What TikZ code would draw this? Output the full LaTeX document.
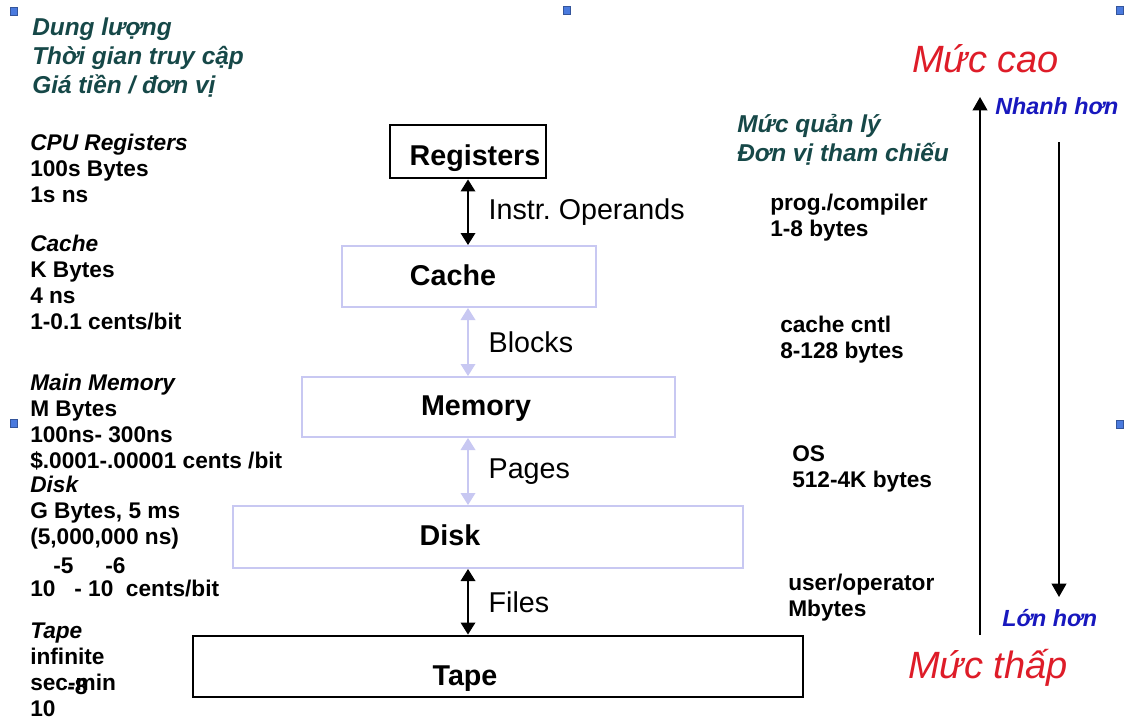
\documentclass[tikz,border=0pt]{standalone}
\usepackage{fontspec}
\setmainfont{Liberation Sans}
\usetikzlibrary{arrows.meta,positioning}
\definecolor{headteal}{RGB}{22,72,72}
\definecolor{levelred}{RGB}{222,28,40}
\definecolor{speedblue}{RGB}{24,24,190}
\definecolor{boxlav}{RGB}{200,200,242}
\definecolor{handleblue}{RGB}{74,122,222}
\tikzset{
  hardbox/.style={draw=black,line width=2.2pt,inner sep=0},
  softbox/.style={draw=boxlav,line width=1.5pt,inner sep=0},
  boxtext/.style={anchor=base,inner sep=0,font=\fontsize{21.5}{24}\selectfont\bfseries},
  info/.style={anchor=base west,inner sep=0,align=left,font=\fontsize{17}{19.5}\selectfont\bfseries},
  vnhead/.style={anchor=base west,inner sep=0,align=left,text=headteal,
    font=\fontsize{18.3}{21.4}\selectfont\bfseries\itshape},
  levellbl/.style={anchor=base west,inner sep=0,text=levelred,font=\fontsize{28.5}{32}\selectfont\itshape},
  speedlbl/.style={anchor=base west,inner sep=0,text=speedblue,font=\fontsize{17.5}{20}\selectfont\bfseries\itshape},
  linklbl/.style={right=15pt,inner sep=0,font=\fontsize{21.5}{24}\selectfont},
  hardlink/.style={{Triangle[length=9pt,width=11pt]}-{Triangle[length=9pt,width=11pt]},line width=1pt},
  softlink/.style={hardlink,draw=boxlav,fill=boxlav},
  sidearrow/.style={-{Triangle[length=10pt,width=11pt]},line width=1.3pt},
  handle/.style={fill=handleblue,draw=handleblue!70!black,line width=0.3pt}
}
\begin{document}
\begin{tikzpicture}[x=0.75pt,y=-0.75pt]
  \useasboundingbox (0,0) rectangle (1124,721);
  \fill[white] (0,0) rectangle (1124,721);
  \draw
    (468,151.5) node[hardbox,minimum width=117pt,minimum height=39.75pt] (reg){}
    (469,276.5) node[softbox,minimum width=190.5pt,minimum height=45.75pt] (cache){}
    (488.5,407) node[softbox,minimum width=279.75pt,minimum height=45pt] (mem){}
    (488,537) node[softbox,minimum width=382.5pt,minimum height=46.5pt] (disk){}
    (498,666.5) node[hardbox,minimum width=457.5pt,minimum height=45.75pt] (tape){}
    (475,165) node[boxtext] (regtxt){Registers}
    (453,285) node[boxtext] (cachetxt){Cache}
    (476,415) node[boxtext] (memtxt){Memory}
    (450,545) node[boxtext] (disktxt){Disk}
    (465,685) node[boxtext] (tapetxt){Tape};
  \begin{scope}
    \draw[hardlink] (reg.south) -- node[linklbl]{Instr.\ Operands} (reg.south |- cache.north);
    \draw[softlink] (reg.south |- cache.south) -- node[linklbl]{Blocks} (reg.south |- mem.north);
    \draw[softlink] (reg.south |- mem.south) -- node[linklbl]{Pages} (reg.south |- disk.north);
    \draw[hardlink] (reg.south |- disk.south) -- node[linklbl]{Files} (reg.south |- tape.north);
  \end{scope}
  \draw
    (32,93) node[vnhead] (costhead){Dung lượng\\Thời gian truy cập\\Giá tiền / đơn vị}
    (30,202) node[info] (reginfo){\itshape CPU Registers\\100s Bytes\\1s ns}
    (30,329) node[info] (cacheinfo){\itshape Cache\\K Bytes\\4 ns\\1-0.1 cents/bit}
    (30,468) node[info] (meminfo){\itshape Main Memory\\M Bytes\\100ns- 300ns\\\$.0001-.00001 cents /bit}
    (30,544) node[info] (diskinfo){\itshape Disk\\G Bytes, 5 ms\\(5,000,000 ns)}
    (53,573) node[info] (diskexpa){-5}
    (105,573) node[info] (diskexpb){-6}
    (30,596) node[info] (diskcost){10\ \ \ - 10\ \ cents/bit}
    (30,716) node[info] (tapeinfo){\itshape Tape\\infinite\\sec-min\\10}
    (67,694) node[info] (tapeexp){-8};
  \draw
    (737,161) node[vnhead] (mgmthead){Mức quản lý\\Đơn vị tham chiếu}
    (770,236) node[info] (progmgmt){prog./compiler\\1-8 bytes}
    (780,358) node[info] (cachemgmt){cache cntl\\8-128 bytes}
    (792,487) node[info] (osmgmt){OS\\512-4K bytes}
    (788,616) node[info] (usermgmt){user/operator\\Mbytes}
    (912,72) node[levellbl] (highlvl){Mức cao}
    (908,678) node[levellbl] (lowlvl){Mức thấp}
    (995,114) node[speedlbl] (faster){Nhanh hơn}
    (1002,626) node[speedlbl] (larger){Lớn hơn};
  \coordinate (upfoot) at (980,635);
  \coordinate (uptip) at (980,97);
  \coordinate (downtop) at (1059,142);
  \coordinate (downtip) at (1059,597);
  \draw[sidearrow] (upfoot) -- (uptip);
  \draw[sidearrow] (downtop) -- (downtip);
  \foreach \hx/\hy in {14/11,567/10,1120/10,14/423,1120/424}
    \filldraw[handle] (\hx-3.5,\hy-4) rectangle (\hx+3.5,\hy+4);
\end{tikzpicture}
\end{document}
